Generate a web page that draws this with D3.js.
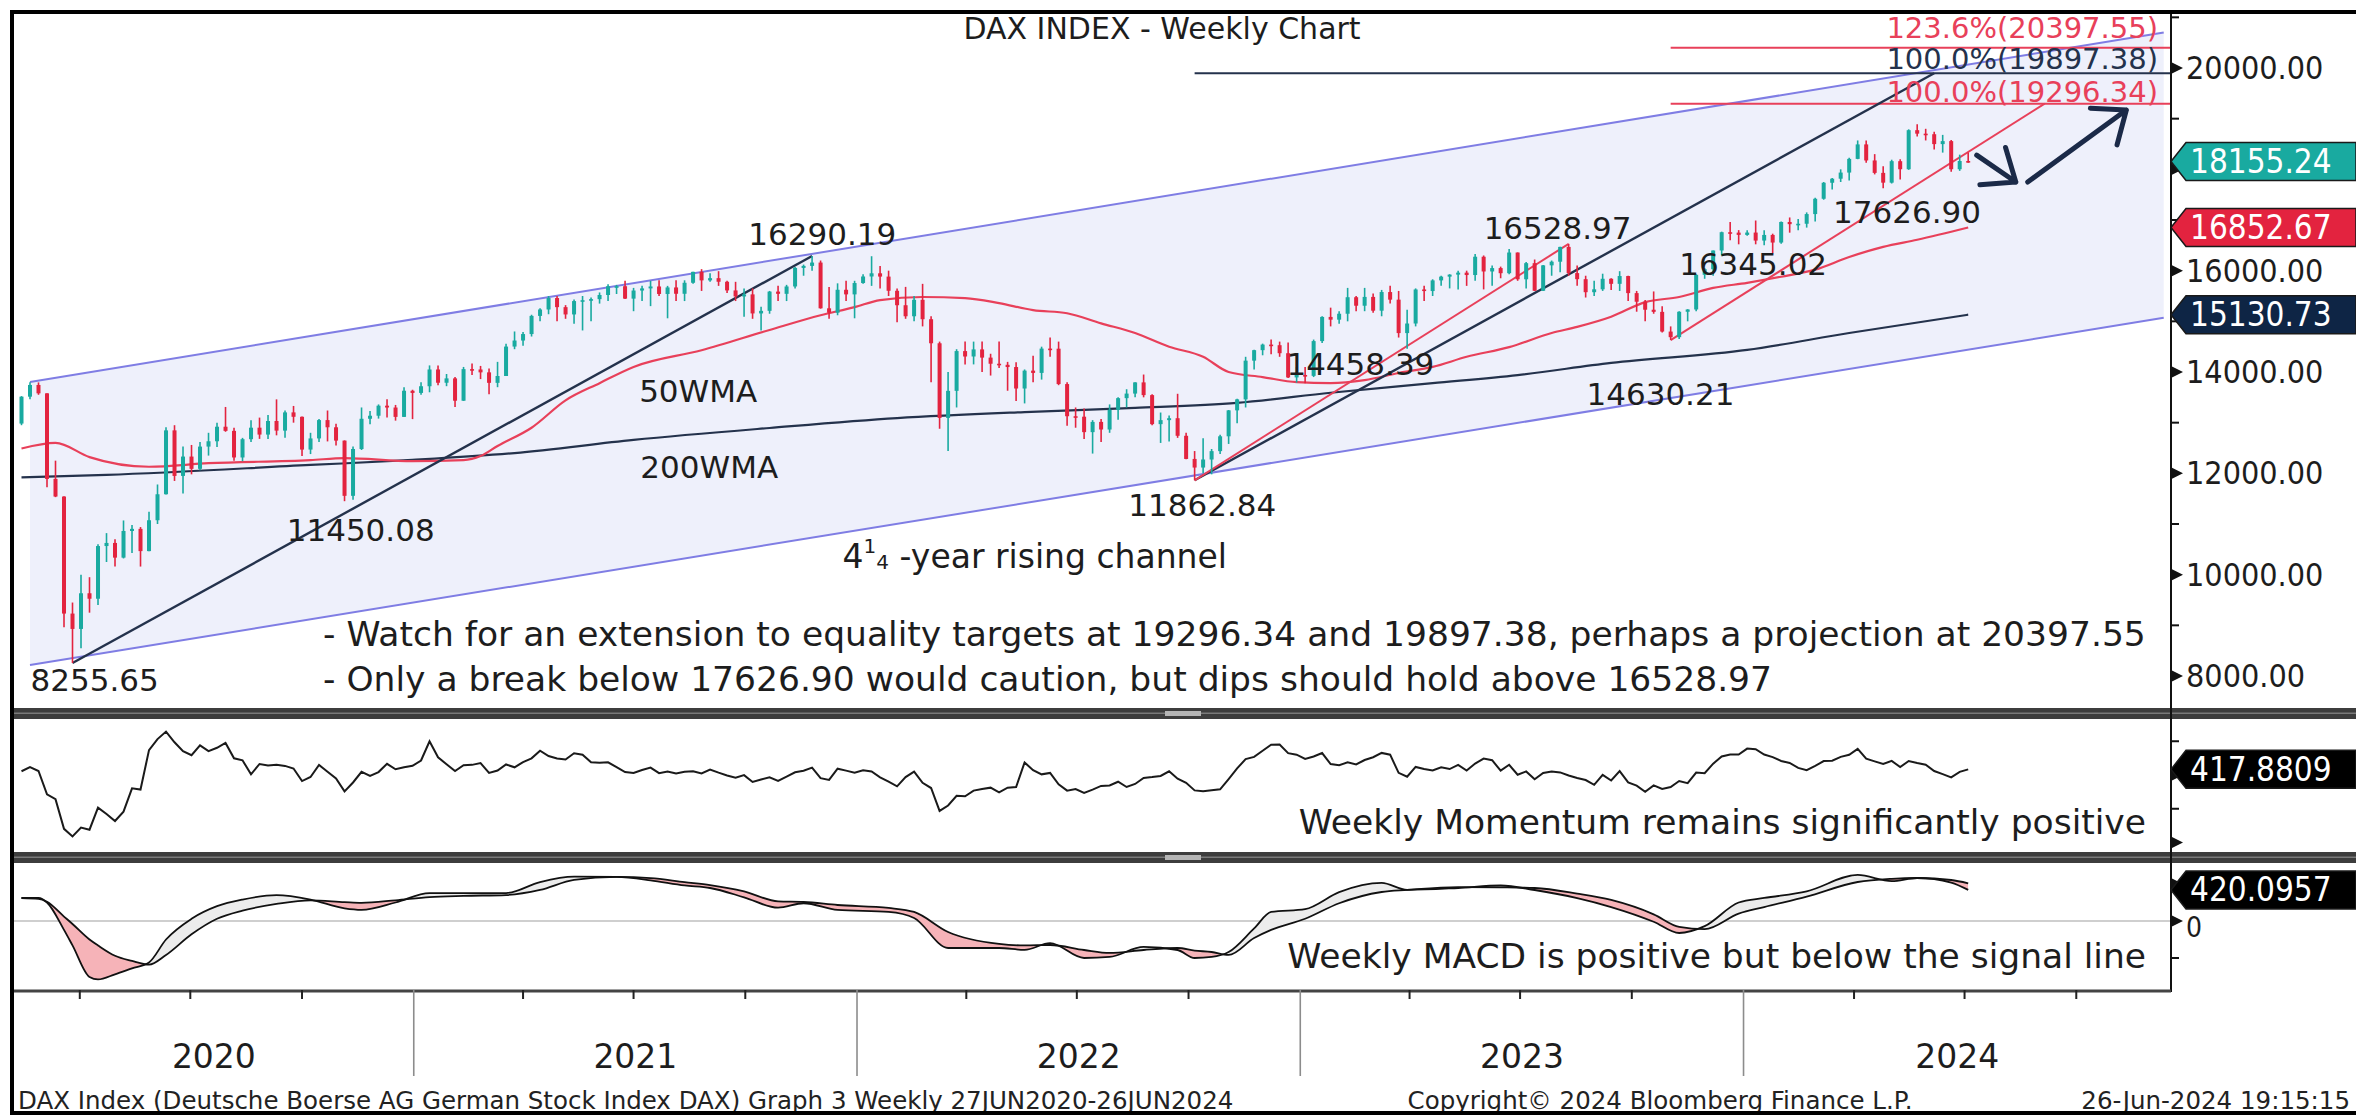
<!DOCTYPE html>
<html>
<head>
<meta charset="utf-8">
<title>DAX INDEX - Weekly Chart</title>
<script src="https://cdn.jsdelivr.net/npm/d3@7"></script>
<style>
  html, body { margin: 0; padding: 0; background: #fff; }
  svg { display: block; font-family: "DejaVu Sans", sans-serif; }
  .cond { font-family: "DejaVu Sans Condensed", "DejaVu Sans", sans-serif; font-stretch: condensed; }
</style>
</head>
<body>
<svg id="chart" width="2356" height="1118"></svg>
<script>
// first weekly bar (week ending Friday 7 Feb 2020), one bar per week after that
var firstWeek = new Date(2020, 1, 7);

var weekOpen = [
  12982,13513,13744,13579,11890,11542,9232,8929,9633,9525,
  10565,10626,10336,10862,10904,10465,11074,11587,12848,11949,
  12331,12089,12528,12633,12920,12838,12313,12674,12901,12765,
  13033,12843,13203,13116,12469,12689,13051,12909,12646,11556,
  12480,13077,13137,13335,13299,13114,13630,13587,13719,14050,
  13788,13874,13433,14057,14050,13993,13786,13921,14502,14621,
  14749,15107,15234,15460,15280,15136,15400,15417,15438,15520,
  15693,15693,15448,15608,15650,15688,15540,15669,15544,15761,
  15977,15808,15852,15781,15610,15491,15532,15156,15207,15587,
  15543,15688,16054,16094,16160,15257,15170,15623,15532,15756,
  15885,15948,15883,15603,15318,15100,15425,15042,14567,13094,
  13628,14413,14306,14446,14284,14163,14142,14098,13674,14027,
  13982,14462,14460,13762,13127,13118,12813,13015,12865,13254,
  13484,13574,13795,13544,12971,13050,13088,12741,12284,12114,
  12273,12438,12731,13243,13460,14224,14431,14541,14529,14371,
  13893,13941,13924,14610,15087,15033,15150,15476,15308,15482,
  15210,15578,15428,14768,14957,15629,15598,15808,15882,15922,
  15961,15914,16275,15984,16051,15950,16358,15830,16148,15603,
  16105,16177,16469,15952,15832,15575,15632,15840,15740,15894,
  15557,15387,15229,15187,14798,14687,15189,15234,15919,16029,
  16398,16759,16751,16706,16752,16594,16705,16555,16961,16918,
  16926,17117,17419,17735,17815,17936,18206,18492,18175,17930,
  17737,18161,18002,18773,18704,18693,18498,18557,18002,18164
];
var weekHigh = [
  13524,13796,13795,13580,12250,11550,9450,10000,9950,10600,
  10820,10700,11070,10980,10940,11240,11780,12910,12950,12530,
  12560,12620,12800,13000,13310,12900,12700,13050,13100,13150,
  13460,13240,13330,13120,12800,13070,13240,12980,12650,12530,
  13300,13230,13360,13460,13350,13700,13650,13800,14130,14130,
  13960,13900,14100,14170,14120,14070,14200,14560,14800,14790,
  15130,15260,15500,15500,15320,15430,15500,15470,15570,15730,
  15720,15800,15660,15700,15800,15810,15700,15810,15810,15980,
  16030,15950,15990,15800,15780,15650,15650,15290,15600,15700,
  15720,16070,16120,16290.19,16200,15680,15750,15800,15800,15930,
  16285,16090,16000,15650,15680,15500,15740,15100,14600,14000,
  14450,14600,14600,14600,14360,14600,14200,14190,14050,14320,
  14500,14680,14600,13800,13300,13280,13050,13070,13360,13500,
  13660,13800,13950,13560,13200,13140,13570,12800,12440,12690,
  12480,12760,13250,13470,14300,14440,14560,14640,14600,14580,
  14100,14100,14640,15100,15270,15200,15660,15500,15660,15550,
  15620,15700,15600,15230,15650,15700,15830,15900,15930,16000,
  16000,16330,16300,16100,16080,16430,16360,16170,16220,16110,
  16200,16470,16528.97,16100,15900,15800,15940,15850,15990,15900,
  15600,15420,15590,15300,14900,15200,15240,15930,16050,16400,
  16770,16960,16800,16800,16990,16800,16730,16970,17050,17020,
  17150,17440,17750,17830,18000,18230,18570,18570,18300,18060,
  18190,18200,18790,18890,18800,18740,18680,18580,18290,18330
];
var weekLow = [
  12950,13460,13550,11725,11530,8960,8255.65,8550,9250,9400,
  10250,10160,10320,10430,10160,10460,11000,11580,11850,11600,
  11980,12060,12350,12520,12820,12250,12240,12620,12680,12680,
  12750,12700,13000,12340,12380,12620,12630,12550,11450.08,11480,
  12460,12970,13080,13100,13040,13110,13070,13550,13600,13740,
  13720,13310,13430,13940,13860,13560,13700,13920,14450,14520,
  14700,15000,15140,15000,15050,14950,14820,15000,15350,15400,
  15540,15440,15200,15400,15300,15500,15060,15400,15400,15740,
  15600,15780,15700,15560,15400,15090,15050,14820,15150,15400,
  15400,15650,15900,16000,15250,15050,15120,15400,15060,15740,
  15700,15650,15500,14980,15050,15000,14900,13800,12880,12440,
  13300,14150,14150,14000,13930,14080,13630,13430,13380,13800,
  13850,14300,13740,12940,12900,12680,12390,12620,12800,13060,
  13300,13500,13500,12950,12600,12630,12700,12280,11862.84,12000,
  11980,12380,12580,12990,13300,14050,14330,14350,14300,13880,
  13790,13780,13900,14570,14900,14950,15000,15200,15200,15170,
  15100,15350,14680,14458.39,14900,15400,15500,15700,15650,15630,
  15700,15800,15630,15700,15850,15930,15800,15650,15600,15600,
  15900,15970,15900,15700,15470,15500,15600,15620,15600,15400,
  15190,15000,15150,14780,14630.21,14650,15000,15200,15840,15900,
  16300,16600,16520,16690,16520,16500,16345.02,16530,16750,16800,
  16850,16970,17400,17600,17750,17780,18200,18130,17900,17626.90,
  17720,17800,17990,18650,18570,18390,18330,17950,17970,18130
];
var weekClose = [
  13513,13744,13579,11890,11542,9232,8929,9633,9525,10565,
  10626,10336,10862,10904,10465,11074,11587,12848,11949,12331,
  12089,12528,12633,12920,12838,12313,12674,12901,12765,13033,
  12843,13203,13116,12469,12689,13051,12909,12646,11556,12480,
  13077,13137,13335,13299,13114,13630,13587,13719,14050,13788,
  13874,13433,14057,14050,13993,13786,13921,14502,14621,14749,
  15107,15234,15460,15280,15136,15400,15417,15438,15520,15693,
  15693,15448,15608,15650,15688,15540,15669,15544,15761,15977,
  15808,15852,15781,15610,15491,15532,15156,15207,15587,15543,
  15688,16054,16094,16160,15257,15170,15623,15532,15756,15885,
  15948,15883,15603,15318,15100,15425,15042,14567,13094,13628,
  14413,14306,14446,14284,14163,14142,14098,13674,14027,13982,
  14462,14460,13762,13127,13118,12813,13015,12865,13254,13484,
  13574,13795,13544,12971,13050,13088,12741,12284,12114,12273,
  12438,12731,13243,13460,14224,14431,14541,14529,14371,13893,
  13941,13924,14610,15087,15033,15150,15476,15308,15482,15210,
  15578,15428,14768,14957,15629,15598,15808,15882,15922,15961,
  15914,16275,15984,16051,15950,16358,15830,16148,15603,16105,
  16177,16469,15952,15832,15575,15632,15840,15740,15894,15557,
  15387,15229,15187,14798,14687,15189,15234,15919,16029,16398,
  16759,16751,16706,16752,16594,16705,16555,16961,16918,16926,
  17117,17419,17735,17815,17936,18206,18492,18175,17930,17737,
  18161,18002,18773,18704,18693,18498,18557,18002,18164,18155.24
];

// weekly momentum, one value per bar
var weekMomentum = [
  277,577,296,-1429,-1795,-3987,-4554,-3893,-4052,-2417,
  -2887,-3408,-2717,-986,-1077,1842,2658,3215,2424,1766,
  1463,2192,1771,2016,2373,1239,1087,53,816,702,
  754,675,483,-451,-149,738,235,-255,-1209,-553,
  234,-66,219,830,425,579,678,1073,2494,1308,
  797,296,722,751,879,156,334,783,571,961,
  1233,1801,1403,1230,1143,1614,1496,936,899,944,
  586,214,148,370,552,140,252,106,241,284,
  115,404,173,-40,-197,-8,-513,-337,-174,-434,
  -120,202,313,550,-234,-362,467,325,169,342,
  260,-171,-491,-842,-157,255,-581,-965,-2662,-2257,
  -1535,-1577,-1157,-1034,-937,-1283,-944,-893,933,354,
  49,154,-684,-1157,-1045,-1329,-1083,-809,-773,-498,
  -888,-665,-218,-156,-68,275,-274,-581,-1140,-1211,
  -1136,-1064,-301,489,1174,1343,1800,2245,2257,1620,
  1503,1193,1367,1627,809,719,935,779,1111,1317,
  1637,1504,158,-130,596,448,332,574,440,751,
  336,847,1216,1094,321,760,22,266,-319,144,
  263,194,-32,-219,-375,-726,10,-408,291,-548,
  -790,-1240,-765,-1034,-888,-443,-606,179,135,841,
  1372,1522,1519,1954,1907,1516,1321,1042,889,528,
  358,668,1029,1063,1342,1501,1937,1214,1012,811,
  1044,583,1038,889,757,292,65,-173,234,417.8809
];

// MACD and signal line, read at these bar numbers
var macdWeeks = [0,2,3,5,6,8,9,11,13,15,17,20,23,26,30,34,38,40,44,48,52,57,61,65,70,74,78,81,85,89,
  92,96,102,105,109,115,118,121,125,128,132,136,138,140,142,145,147,151,155,160,163,169,174,178,183,187,
  192,195,198,202,205,210,216,220,223,227,229];
var macdLine = [311,311,250,-120,-330,-757,-790,-720,-640,-560,-250,30,200,290,350,290,170,150,250,378,
  378,378,527,600,595,550,480,446,320,180,240,150,122,41,-365,-365,-390,-300,-500,-486,
  -351,-392,-500,-486,-420,-100,122,160,390,514,420,446,480,419,310,189,-10,-162,-70,250,
  311,400,622,540,581,520,420.0957];
var signalLine = [311,300,260,60,-40,-250,-330,-470,-540,-590,-460,-180,30,140,230,280,255,245,280,324,
  340,351,420,555,595,580,525,486,400,265,257,216,176,122,-149,-310,-330,-324,-392,-432,
  -392,-365,-400,-419,-459,-230,-120,30,240,392,420,459,455,446,370,284,90,-80,-110,100,
  189,330,527,570,581,554,510];

// weighted moving averages, read at these bar numbers
var wma50Weeks = [0,4,8,15,22,34,38,46,52,54,56,60,64,68,72,80,88,94,98,101,106,111,115,119,123,127,131,135,
  139,142,146,150,154,158,162,166,170,175,180,183,187,191,195,199,203,207,211,215,219,223,229];
var wma50 = [12490,12600,12320,12130,12200,12260,12300,12240,12260,12340,12540,12900,13440,13780,14100,14430,
  14830,15120,15280,15420,15480,15460,15360,15220,15160,14960,14770,14500,14300,14000,13900,13800,13780,
  13840,13980,14100,14300,14490,14770,14890,15090,15380,15480,15660,15760,15880,16020,16270,16470,16610,16852.67];
var wma200Weeks = [0,10,34,46,58,72,88,103,118,131,143,154,166,176,187,203,215,229];
var wma200 = [11920,11970,12165,12265,12400,12660,12895,13090,13210,13290,13390,13590,13780,13940,14180,
  14435,14770,15130.73];

// 4 1/4-year rising channel (bar number, upper, lower)
var channelWeeks = [1, 252];
var channelUpper = [13803, 20700];
var channelLower = [8218, 15070];

// projection legs: [bar from, price from, bar to, price to]
var navyLegs = [[6, 8255.65, 93, 16290.19], [138, 11862.84, 225, 19897.38]];
var redLegs = [[138, 11862.84, 182, 16528.97], [194, 14630.21, 238, 19296.34]];

// target levels
var targetValues = [20397.55, 19897.38, 19296.34];
var targetNames = ['123.6%', '100.0%', '100.0%'];
var targetFromWeek = [194, 138, 194];

var yearLabels = [2020, 2021, 2022, 2023, 2024];
var priceTicks = [8000, 10000, 12000, 14000, 16000, 18000, 20000];

// ---- layout ----
var svg = d3.select('#chart');
var W = 2356, H = 1118;
var plotL = 14, axisX = 2171;
var mainTop = 14, mainBot = 708, momTop = 719, momBot = 852, macdTop = 863, macdBot = 990;
var RED = '#e8405a', NAVY = '#24324c', TEAL = '#19aaa0', CANDLE_RED = '#e3233f';
var INK = '#1d1d1d';
var DAY = 864e5;
var f2 = d3.format('.2f'), f4 = d3.format('.4f');

var x = d3.scaleTime().domain([new Date(2020, 1, 13), new Date(2024, 11, 18)]).range([21.5, axisX]);
// a weekly bar sits at the end of its trading week
function wx(w) { return x(new Date(+firstWeek + (7 * w + 6) * DAY)); }
var y = d3.scaleLinear().domain([8000, 20000]).range([676, 68]);
var yMom = d3.scaleLinear().domain([-5000, 2500]).range([842.5, 741.25]);
var yMacd = d3.scaleLinear().domain([-500, 0]).range([958, 921]);

svg.append('rect').attr('width', W).attr('height', H).attr('fill', '#fff');

var defs = svg.append('defs');
function clip(id, top, bottom) {
  defs.append('clipPath').attr('id', id).append('rect')
    .attr('x', plotL).attr('y', top).attr('width', axisX - plotL).attr('height', bottom - top);
  return 'url(#' + id + ')';
}

// small helper for plain text
function label(px, py, txt, size, opts) {
  opts = opts || {};
  return svg.append('text').attr('x', px).attr('y', py)
    .attr('text-anchor', opts.anchor || 'start').attr('dominant-baseline', 'central')
    .attr('font-size', size).attr('fill', opts.fill || INK)
    .attr('class', opts.cls || null).text(txt);
}

// ---- main price panel ----
var main = svg.append('g').attr('clip-path', clip('clipMain', mainTop, mainBot));

var chan = channelWeeks.map(function (w, k) { return {w: w, hi: channelUpper[k], lo: channelLower[k]}; });
main.append('path').datum(chan).attr('fill', '#eef0fb')
  .attr('d', d3.area().x(function (d) { return wx(d.w); }).y0(function (d) { return y(d.lo); }).y1(function (d) { return y(d.hi); }));
['hi', 'lo'].forEach(function (k) {
  main.append('path').datum(chan).attr('fill', 'none').attr('stroke', '#7f7de4').attr('stroke-width', 2)
    .attr('d', d3.line().x(function (d) { return wx(d.w); }).y(function (d) { return y(d[k]); }));
});

// moving averages
function maLine(weeks, vals, color) {
  main.append('path').datum(weeks.map(function (w, k) { return [w, vals[k]]; }))
    .attr('fill', 'none').attr('stroke', color).attr('stroke-width', 2.2)
    .attr('d', d3.line().curve(d3.curveMonotoneX).x(function (d) { return wx(d[0]); }).y(function (d) { return y(d[1]); }));
}
maLine(wma200Weeks, wma200, NAVY);
maLine(wma50Weeks, wma50, RED);

// target levels (the middle one is the navy equality target)
targetValues.forEach(function (v, k) {
  main.append('line').attr('x1', wx(targetFromWeek[k])).attr('x2', axisX)
    .attr('y1', y(v)).attr('y2', y(v)).attr('stroke', k === 1 ? NAVY : RED).attr('stroke-width', 2);
});

// projection legs
function legs(list, color, width) {
  list.forEach(function (l) {
    main.append('line').attr('x1', wx(l[0])).attr('y1', y(l[1])).attr('x2', wx(l[2])).attr('y2', y(l[3]))
      .attr('stroke', color).attr('stroke-width', width);
  });
}
legs(navyLegs, NAVY, 2.4);
legs(redLegs, RED, 2);

// candles
var cg = main.append('g');
weekClose.forEach(function (c, i) {
  var o = weekOpen[i];
  var col = c >= o ? TEAL : CANDLE_RED;
  var cx = wx(i);
  cg.append('line').attr('x1', cx).attr('x2', cx).attr('y1', y(weekHigh[i])).attr('y2', y(weekLow[i]))
    .attr('stroke', col).attr('stroke-width', 1.6);
  var top = y(Math.max(o, c)), bot = y(Math.min(o, c));
  cg.append('rect').attr('x', cx - 2).attr('width', 4).attr('y', top)
    .attr('height', Math.max(1.6, bot - top)).attr('fill', col);
});

// target labels, stacked tight above their lines as on the terminal
var targetLift = [10, 4, 2];
targetValues.forEach(function (v, k) {
  svg.append('text').attr('x', 2158).attr('y', y(v) - targetLift[k]).attr('text-anchor', 'end')
    .attr('font-size', 29).attr('fill', k === 1 ? NAVY : RED)
    .text(targetNames[k] + '(' + f2(v) + ')');
});

// arrows (bar number / price)
var arrows = [[230, 18280, 234.6, 17750], [236, 17750, 247.6, 19170]];
arrows.forEach(function (a) {
  var x1 = wx(a[0]), y1 = y(a[1]), x2 = wx(a[2]), y2 = y(a[3]);
  var ang = Math.atan2(y1 - y2, x1 - x2), len = 36, spread = 0.68;
  var p = 'M' + x1 + ',' + y1 + 'L' + x2 + ',' + y2 +
    'M' + (x2 + len * Math.cos(ang + spread)) + ',' + (y2 + len * Math.sin(ang + spread)) + 'L' + x2 + ',' + y2 +
    'L' + (x2 + len * Math.cos(ang - spread)) + ',' + (y2 + len * Math.sin(ang - spread));
  svg.append('path').attr('d', p).attr('fill', 'none').attr('stroke', '#1b2a48')
    .attr('stroke-width', 5).attr('stroke-linecap', 'round').attr('stroke-linejoin', 'round');
});

// price labels, anchored to bar number / price
var notes = [
  ['16290.19', 94.2, 16724], ['8255.65', 8.6, 7922], ['11450.08', 39.9, 10882],
  ['11862.84', 138.9, 11376], ['14458.39', 157.5, 14158], ['16528.97', 180.7, 16842],
  ['14630.21', 192.8, 13566], ['16345.02', 203.7, 16132], ['17626.90', 221.8, 17158],
  ['50WMA', 79.6, 13626], ['200WMA', 80.9, 12126]
];
notes.forEach(function (n) {
  label(wx(n[1]), y(n[2]), n[0], 31, {anchor: 'middle'});
});
var ch = label(wx(119.2), y(10369), null, 33, {anchor: 'middle'});
ch.append('tspan').text('4');
ch.append('tspan').attr('font-size', 20).attr('dy', -10).text('1');
ch.append('tspan').attr('font-size', 20).attr('dy', 16).text('4');
ch.append('tspan').attr('dy', -6).text(' -year rising channel');

label(1162, 28, 'DAX INDEX - Weekly Chart', 30, {anchor: 'middle'});

var comments = [
  '- Watch for an extension to equality targets at 19296.34 and 19897.38, perhaps a projection at 20397.55',
  '- Only a break below 17626.90 would caution, but dips should hold above 16528.97'
];
comments.forEach(function (t, k) { label(323, 634 + k * 45, t, 34.5); });

// ---- momentum panel ----
var mom = svg.append('g').attr('clip-path', clip('clipMom', momTop, momBot));
mom.append('path').datum(weekMomentum).attr('fill', 'none').attr('stroke', '#1a1a1a').attr('stroke-width', 2)
  .attr('d', d3.line().x(function (d, i) { return wx(i); }).y(function (d) { return yMom(d); }));
label(2146, 822, 'Weekly Momentum remains significantly positive', 34.5, {anchor: 'end'});

// ---- MACD panel ----
var macd = svg.append('g').attr('clip-path', clip('clipMacd', macdTop, macdBot));
macd.append('line').attr('x1', plotL).attr('x2', axisX).attr('y1', yMacd(0)).attr('y2', yMacd(0))
  .attr('stroke', '#cfcfcf').attr('stroke-width', 2);
var mp = macdWeeks.map(function (w, k) { return {w: w, m: macdLine[k], s: signalLine[k]}; });
var mx = function (d) { return wx(d.w); };
var crv = d3.curveMonotoneX;
defs.append('clipPath').attr('id', 'macdAbove').append('path').datum(mp)
  .attr('d', d3.area().curve(crv).x(mx).y0(macdTop).y1(function (d) { return yMacd(d.m); }));
defs.append('clipPath').attr('id', 'macdBelow').append('path').datum(mp)
  .attr('d', d3.area().curve(crv).x(mx).y0(macdBot).y1(function (d) { return yMacd(d.m); }));
var between = d3.area().curve(crv).x(mx).y0(function (d) { return yMacd(d.m); }).y1(function (d) { return yMacd(d.s); });
// MACD under the signal line: pink, above it: light grey
macd.append('g').attr('clip-path', 'url(#macdAbove)').append('path').datum(mp).attr('d', between).attr('fill', '#f6b3b8');
macd.append('g').attr('clip-path', 'url(#macdBelow)').append('path').datum(mp).attr('d', between).attr('fill', '#ececec');
['m', 's'].forEach(function (k) {
  macd.append('path').datum(mp).attr('fill', 'none').attr('stroke', '#111').attr('stroke-width', 1.8)
    .attr('d', d3.line().curve(crv).x(mx).y(function (d) { return yMacd(d[k]); }));
});
label(2146, 956, 'Weekly MACD is positive but below the signal line', 34.5, {anchor: 'end'});

// ---- panel separators ----
[mainBot, momBot].forEach(function (sy) {
  svg.append('rect').attr('x', 12).attr('y', sy).attr('width', W - 12).attr('height', 11).attr('fill', '#3d3d3d');
  svg.append('rect').attr('x', 12).attr('y', sy + 4.5).attr('width', W - 12).attr('height', 1.5).attr('fill', '#7a7a7a');
  svg.append('rect').attr('x', 1165).attr('y', sy + 3).attr('width', 36).attr('height', 5).attr('fill', '#b5b5b5');
});

// ---- right axis ----
svg.append('line').attr('x1', axisX).attr('x2', axisX).attr('y1', 12).attr('y2', macdBot + 2)
  .attr('stroke', '#111').attr('stroke-width', 2);
function tri(yy) {
  svg.append('path').attr('d', 'M' + axisX + ',' + (yy - 6) + 'L' + (axisX + 12) + ',' + yy + 'L' + axisX + ',' + (yy + 6) + 'Z')
    .attr('fill', '#111');
}
function minor(yy) {
  svg.append('line').attr('x1', axisX).attr('x2', axisX + 8).attr('y1', yy).attr('y2', yy)
    .attr('stroke', '#111').attr('stroke-width', 2);
}

// value tags on the right; axis labels hidden behind a tag are not drawn
var last = weekClose.length - 1;
var tags = [
  [y(weekClose[last]), f2(weekClose[last]), TEAL],
  [y(wma50[wma50.length - 1]), f2(wma50[wma50.length - 1]), CANDLE_RED],
  [y(wma200[wma200.length - 1]), f2(wma200[wma200.length - 1]), '#0e2545'],
  [yMom(weekMomentum[last]), f4(weekMomentum[last]), '#000'],
  [yMacd(macdLine[macdLine.length - 1]), f4(macdLine[macdLine.length - 1]), '#000']
];
function underTag(yy) {
  return tags.some(function (t) { return Math.abs(t[0] - yy) < 30; });
}

d3.range(9000, 21001, 2000).forEach(function (v) { minor(y(v)); });
priceTicks.forEach(function (v) {
  tri(y(v));
  if (!underTag(y(v))) label(2186, y(v), f2(v), 32, {cls: 'cond'});
});
[2500, -2500].forEach(function (v) { minor(yMom(v)); });
[0, -5000].forEach(function (v) { tri(yMom(v)); });
minor(yMacd(-500));
tri(yMacd(0));
tri(yMacd(500));
label(2186, yMacd(0) + 6, '0', 28, {cls: 'cond'});

tags.forEach(function (t) {
  var yy = t[0], h = 19;
  svg.append('path')
    .attr('d', 'M' + axisX + ',' + yy + 'L' + (axisX + 15) + ',' + (yy - h) + 'L' + W + ',' + (yy - h) +
      'L' + W + ',' + (yy + h) + 'L' + (axisX + 15) + ',' + (yy + h) + 'Z')
    .attr('fill', t[2]).attr('stroke', '#1a1a1a').attr('stroke-width', 1.5);
  label(2190, yy, t[1], 33, {cls: 'cond', fill: '#fff'});
});

// ---- time axis ----
svg.append('line').attr('x1', 12).attr('x2', axisX).attr('y1', macdBot + 1).attr('y2', macdBot + 1)
  .attr('stroke', '#444').attr('stroke-width', 3);
var quarters = d3.timeMonth.every(3).range(new Date(2020, 3, 1), x.domain()[1]);
quarters.forEach(function (d) {
  var qx = x(d);
  if (d.getMonth() === 0) {
    svg.append('line').attr('x1', qx).attr('x2', qx).attr('y1', macdBot).attr('y2', 1076)
      .attr('stroke', '#8c8c8c').attr('stroke-width', 1.6);
  } else {
    svg.append('line').attr('x1', qx).attr('x2', qx).attr('y1', macdBot).attr('y2', macdBot + 9)
      .attr('stroke', '#222').attr('stroke-width', 2);
  }
});
yearLabels.forEach(function (yr) {
  var a = Math.max(plotL, x(new Date(yr, 0, 1))), b = Math.min(axisX, x(new Date(yr + 1, 0, 1)));
  label((a + b) / 2, 1056, yr, 33, {anchor: 'middle'});
});

// footer
label(18, 1100, 'DAX Index (Deutsche Boerse AG German Stock Index DAX) Graph 3  Weekly 27JUN2020-26JUN2024', 24.5, {fill: '#222'});
label(1660, 1100, 'Copyright\u00a9 2024 Bloomberg Finance L.P.', 24.5, {anchor: 'middle', fill: '#222'});
label(2350, 1100, '26-Jun-2024 19:15:15', 24.5, {anchor: 'end', fill: '#222'});

// outer frame
svg.append('rect').attr('x', 12).attr('y', 12).attr('width', W).attr('height', 1101)
  .attr('fill', 'none').attr('stroke', '#000').attr('stroke-width', 4);
</script>
</body>
</html>
